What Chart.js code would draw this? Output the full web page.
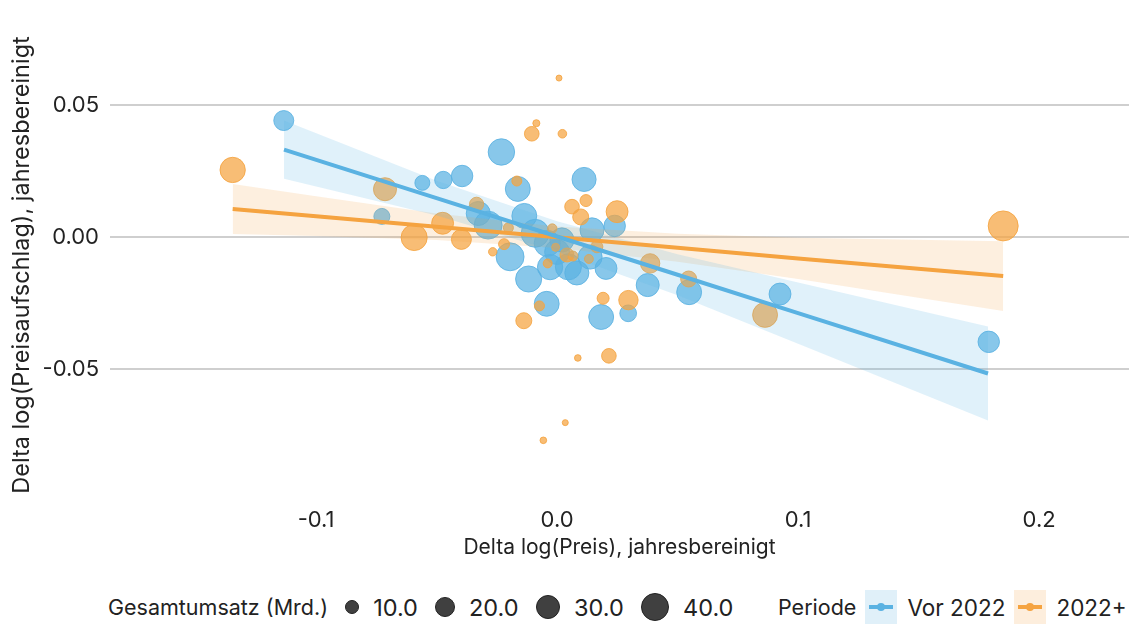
<!DOCTYPE html>
<html>
<head>
<meta charset="utf-8">
<script src="https://cdn.jsdelivr.net/npm/chart.js@4"></script>
<style>
  body { margin: 0; background: #fff; font-family: Inter, "Liberation Sans", sans-serif; color: #222; }
  #wrap { position: relative; width: 1129px; height: 643px; overflow: hidden; }
  #legend { position: absolute; left: 0; top: 588px; width: 1129px; height: 38px; }
  .row { position: absolute; top: 0; height: 38px; display: flex; align-items: center; white-space: nowrap; }
  .ttl { font-size: 21.5px; }
  .lbl { font-size: 23.5px; margin-left: 14px; }
  .plbl { font-size: 22.5px; margin-left: 10px; }
  .dot { border-radius: 50%; background: #404040; border: 1px solid #222; box-sizing: border-box; margin-left: 17px; flex: none; }
  .key { width: 32px; height: 34px; position: relative; margin-left: 9px; flex: none; }
  .key i { position: absolute; left: 4px; right: 4px; top: 15px; height: 4px; }
  .key b { position: absolute; left: 12px; top: 13px; width: 8px; height: 8px; border-radius: 50%; }
</style>
</head>
<body>
<div id="wrap">
  <canvas id="chart" width="1129" height="575"></canvas>
  <div id="legend">
    <div class="row" id="sizeRow" style="left:108px"><span class="ttl">Gesamtumsatz (Mrd.)</span></div>
    <div class="row" style="left:778px">
      <span class="ttl">Periode</span>
      <span class="key" style="background:#e0f0f9"><i style="background:#5ab2e2"></i><b style="background:#5ab2e2"></b></span>
      <span class="plbl">Vor 2022</span>
      <span class="key" style="background:#fdeedd"><i style="background:#f5a340"></i><b style="background:#f5a340"></b></span>
      <span class="plbl">2022+</span>
    </div>
  </div>
</div>
<script>
// Vor 2022: Delta log(Preis), Delta log(Preisaufschlag), Gesamtumsatz (Mrd.)
const vorX = [-0.1134, -0.0727, -0.0559, -0.0472, -0.0394, -0.0327, -0.0286, -0.0231, -0.0163, -0.0136,
  -0.0091, -0.0195, -0.0118, -0.0043, -0.0041, -0.0029, 0.0020, 0.0047, 0.0082, 0.0112,
  0.0145, 0.0137, 0.0203, 0.0239, 0.0183, 0.0295, 0.0376, 0.0548, 0.0925, 0.1791, 0.0000];
const vorY = [0.0441, 0.0078, 0.0205, 0.0216, 0.0231, 0.0089, 0.0045, 0.0322, 0.0182, 0.0080,
  0.0014, -0.0075, -0.0159, -0.0253, -0.0024, -0.0114, -0.0011, -0.0113, -0.0136, 0.0218,
  0.0027, -0.0076, -0.0119, 0.0042, -0.0303, -0.0289, -0.0182, -0.0209, -0.0216, -0.0397, -0.0057];
const vorUmsatz = [20, 12.8, 11.2, 15, 23, 29, 39, 35, 31, 31,
  39, 39, 34, 31, 34, 32, 29, 34, 29, 29,
  29, 29, 24, 23, 31, 14, 26.5, 31, 24, 23, 31];

// 2022+
const neuX = [-0.1346, -0.0714, -0.0593, -0.0475, -0.0397, -0.0334, -0.0267, -0.0220, -0.0202, -0.0167,
  -0.0105, -0.0086, 0.0008, 0.0022, -0.0020, -0.0006, -0.0039, 0.0041, 0.0066, 0.0062,
  0.0120, 0.0098, 0.0249, 0.0132, 0.0165, -0.0073, -0.0138, 0.0191, 0.0296, 0.0215,
  0.0086, 0.0034, -0.0057, 0.0386, 0.0546, 0.0863, 0.1851];
const neuY = [0.0254, 0.0181, -0.0002, 0.0052, -0.0009, 0.0124, -0.0056, -0.0027, 0.0035, 0.0212,
  0.0391, 0.0431, 0.0602, 0.0391, 0.0032, -0.0039, -0.0100, -0.0068, -0.0072, 0.0115,
  0.0138, 0.0076, 0.0096, -0.0083, -0.0037, -0.0261, -0.0317, -0.0232, -0.0239, -0.0450,
  -0.0458, -0.0703, -0.0770, -0.0100, -0.0159, -0.0295, 0.0042];
const neuUmsatz = [32, 26.5, 34, 24, 20, 10, 3.5, 6, 5, 5,
  10.7, 2.5, 1.8, 3.7, 4.4, 3.2, 4, 9.8, 5, 10.7,
  7.2, 12.8, 24, 4, 7.2, 5, 12.8, 7.2, 18.8, 10.7,
  2.2, 1.8, 2.2, 18.8, 12.8, 31, 45];

// Regression lines with confidence bands
const vorFitX = [-0.1133, -0.05, 0, 0.05, 0.1, 0.1788];
const vorFit = [0.0331, 0.0147, 0.0002, -0.0143, -0.0288, -0.0517];
const vorUpper = [0.0441, 0.0213, 0.0060, -0.0065, -0.0172, -0.0339];
const vorLower = [0.0221, 0.0081, -0.0056, -0.0221, -0.0404, -0.0695];

const neuFitX = [-0.1346, -0.1, -0.05, 0, 0.05, 0.1, 0.1851];
const neuFit = [0.0106, 0.0079, 0.0039, -0.0001, -0.0041, -0.0081, -0.0148];
const neuUpper = [0.0201, 0.0154, 0.0089, 0.0040, 0.0012, -0.0003, -0.0016];
const neuLower = [0.0011, 0.0004, -0.0011, -0.0042, -0.0094, -0.0159, -0.0280];

const sizeLegend = [10, 20, 30, 40];
const xTicks = [-0.1, 0, 0.1, 0.2];
const yTicks = [-0.05, 0, 0.05];

const BLUE = '90,178,226';
const ORANGE = '245,163,64';

function radius(v) { return Math.sqrt(v * 5); }
function bubbles(xs, ys, vs) { return xs.map((x, i) => ({ x: x, y: ys[i], r: radius(vs[i]) })); }
function pts(xs, ys) { return xs.map((x, i) => ({ x: x, y: ys[i] })); }

// size legend
const sizeRow = document.getElementById('sizeRow');
sizeLegend.forEach(v => {
  const d = document.createElement('span');
  d.className = 'dot';
  const r = radius(v);
  d.style.width = (2 * r) + 'px';
  d.style.height = (2 * r) + 'px';
  sizeRow.appendChild(d);
  const t = document.createElement('span');
  t.className = 'lbl';
  t.textContent = v.toFixed(1);
  sizeRow.appendChild(t);
});

const bandStyle = { type: 'line', pointRadius: 0, borderWidth: 0, showLine: true, tension: 0 };

new Chart(document.getElementById('chart'), {
  type: 'bubble',
  data: {
    datasets: [
      { type: 'line', label: 'Vor 2022 fit', data: pts(vorFitX, vorFit), borderColor: 'rgb(' + BLUE + ')', borderWidth: 4, pointRadius: 0, order: 0 },
      { type: 'line', label: '2022+ fit', data: pts(neuFitX, neuFit), borderColor: 'rgb(' + ORANGE + ')', borderWidth: 4, pointRadius: 0, order: 0 },
      Object.assign({ label: 'vorUpper', data: pts(vorFitX, vorUpper), fill: '+1', backgroundColor: 'rgba(' + BLUE + ',0.19)', order: 1 }, bandStyle),
      Object.assign({ label: 'vorLower', data: pts(vorFitX, vorLower), fill: false, order: 1 }, bandStyle),
      Object.assign({ label: 'neuUpper', data: pts(neuFitX, neuUpper), fill: '+1', backgroundColor: 'rgba(' + ORANGE + ',0.17)', order: 1 }, bandStyle),
      Object.assign({ label: 'neuLower', data: pts(neuFitX, neuLower), fill: false, order: 1 }, bandStyle),
      { label: '2022+', data: bubbles(neuX, neuY, neuUmsatz), backgroundColor: 'rgba(' + ORANGE + ',0.72)', borderColor: 'rgba(' + ORANGE + ',0.85)', borderWidth: 1, order: 2 },
      { label: 'Vor 2022', data: bubbles(vorX, vorY, vorUmsatz), backgroundColor: 'rgba(' + BLUE + ',0.72)', borderColor: 'rgba(' + BLUE + ',0.85)', borderWidth: 1, order: 3 }
    ]
  },
  options: {
    responsive: false,
    animation: false,
    events: [],
    layout: { autoPadding: false, padding: { top: 30, right: 0, left: 0, bottom: 0 } },
    plugins: { legend: { display: false }, tooltip: { enabled: false } },
    scales: {
      x: {
        type: 'linear', min: -0.1855, max: 0.2373,
        afterBuildTicks: s => { s.ticks = xTicks.map(v => ({ value: v })); },
        afterFit: s => { s.height = 75; },
        ticks: { callback: v => v.toFixed(1), padding: 7, color: '#222', font: { family: 'Inter', size: 22 } },
        grid: { display: false, drawTicks: false },
        border: { display: false },
        title: { display: true, text: 'Delta log(Preis), jahresbereinigt', color: '#222', font: { family: 'Inter', size: 21 }, padding: { top: 0, bottom: 15 } }
      },
      y: {
        type: 'linear', min: -0.0996, max: 0.0784,
        afterBuildTicks: s => { s.ticks = yTicks.map(v => ({ value: v })); },
        afterFit: s => { s.width = 110; },
        ticks: { callback: v => v.toFixed(2), padding: 11, color: '#222', font: { family: 'Inter', size: 22 } },
        grid: { color: '#cfcfcf', lineWidth: 2, drawTicks: false },
        border: { display: false },
        title: { display: true, text: 'Delta log(Preisaufschlag), jahresbereinigt', color: '#222', font: { family: 'Inter', size: 23.5 }, padding: { top: 8, bottom: 0 } }
      }
    }
  }
});
</script>
</body>
</html>
